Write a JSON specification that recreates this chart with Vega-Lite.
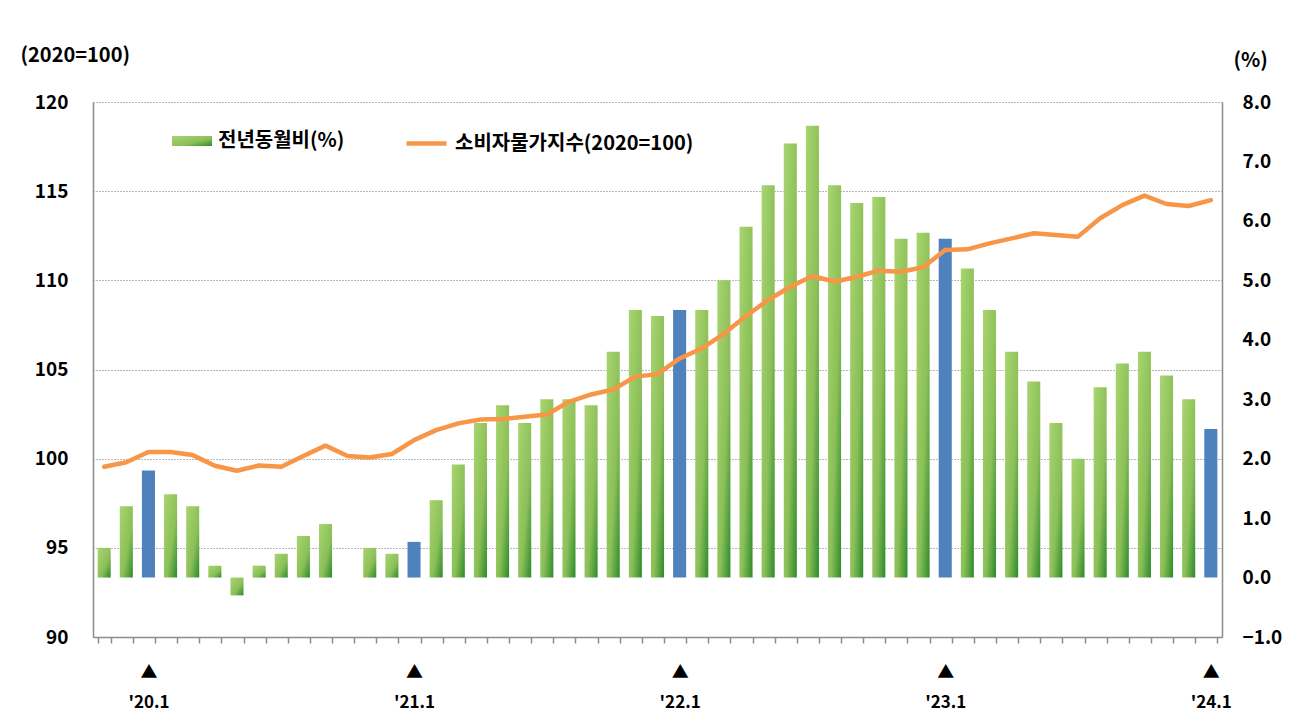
{
  "$schema": "https://vega.github.io/schema/vega-lite/v6.json",
  "width": 1129,
  "height": 535,
  "autosize": {"type": "none"},
  "padding": {"left": 93, "top": 102, "right": 68, "bottom": 75},
  "background": "white",
  "config": {"view": {"stroke": null}, "font": "Noto Sans CJK KR"},
  "data": {
    "values": [
      {"m": "2019-11", "yoy": 0.5, "cpi": 99.55},
      {"m": "2019-12", "yoy": 1.2, "cpi": 99.8},
      {"m": "2020-01", "yoy": 1.8, "cpi": 100.37},
      {"m": "2020-02", "yoy": 1.4, "cpi": 100.37},
      {"m": "2020-03", "yoy": 1.2, "cpi": 100.2},
      {"m": "2020-04", "yoy": 0.2, "cpi": 99.6},
      {"m": "2020-05", "yoy": -0.3, "cpi": 99.32},
      {"m": "2020-06", "yoy": 0.2, "cpi": 99.62},
      {"m": "2020-07", "yoy": 0.4, "cpi": 99.55},
      {"m": "2020-08", "yoy": 0.7, "cpi": 100.15},
      {"m": "2020-09", "yoy": 0.9, "cpi": 100.73},
      {"m": "2020-10", "yoy": 0.0, "cpi": 100.15},
      {"m": "2020-11", "yoy": 0.5, "cpi": 100.07},
      {"m": "2020-12", "yoy": 0.4, "cpi": 100.26},
      {"m": "2021-01", "yoy": 0.6, "cpi": 101.04},
      {"m": "2021-02", "yoy": 1.3, "cpi": 101.6},
      {"m": "2021-03", "yoy": 1.9, "cpi": 101.98},
      {"m": "2021-04", "yoy": 2.6, "cpi": 102.2},
      {"m": "2021-05", "yoy": 2.9, "cpi": 102.22},
      {"m": "2021-06", "yoy": 2.6, "cpi": 102.35},
      {"m": "2021-07", "yoy": 3.0, "cpi": 102.48},
      {"m": "2021-08", "yoy": 3.0, "cpi": 103.19},
      {"m": "2021-09", "yoy": 2.9, "cpi": 103.6},
      {"m": "2021-10", "yoy": 3.8, "cpi": 103.88},
      {"m": "2021-11", "yoy": 4.5, "cpi": 104.6},
      {"m": "2021-12", "yoy": 4.4, "cpi": 104.74},
      {"m": "2022-01", "yoy": 4.5, "cpi": 105.62},
      {"m": "2022-02", "yoy": 4.5, "cpi": 106.18},
      {"m": "2022-03", "yoy": 5.0, "cpi": 107.0},
      {"m": "2022-04", "yoy": 5.9, "cpi": 108.0},
      {"m": "2022-05", "yoy": 6.6, "cpi": 108.9},
      {"m": "2022-06", "yoy": 7.3, "cpi": 109.64},
      {"m": "2022-07", "yoy": 7.6, "cpi": 110.24},
      {"m": "2022-08", "yoy": 6.6, "cpi": 109.92},
      {"m": "2022-09", "yoy": 6.3, "cpi": 110.2},
      {"m": "2022-10", "yoy": 6.4, "cpi": 110.54},
      {"m": "2022-11", "yoy": 5.7, "cpi": 110.48},
      {"m": "2022-12", "yoy": 5.8, "cpi": 110.73},
      {"m": "2023-01", "yoy": 5.7, "cpi": 111.7},
      {"m": "2023-02", "yoy": 5.2, "cpi": 111.74},
      {"m": "2023-03", "yoy": 4.5, "cpi": 112.07},
      {"m": "2023-04", "yoy": 3.8, "cpi": 112.35},
      {"m": "2023-05", "yoy": 3.3, "cpi": 112.64},
      {"m": "2023-06", "yoy": 2.6, "cpi": 112.54},
      {"m": "2023-07", "yoy": 2.0, "cpi": 112.45},
      {"m": "2023-08", "yoy": 3.2, "cpi": 113.48},
      {"m": "2023-09", "yoy": 3.6, "cpi": 114.22},
      {"m": "2023-10", "yoy": 3.8, "cpi": 114.75},
      {"m": "2023-11", "yoy": 3.4, "cpi": 114.28},
      {"m": "2023-12", "yoy": 3.0, "cpi": 114.17},
      {"m": "2024-01", "yoy": 2.5, "cpi": 114.5}
    ]
  },
  "encoding": {
    "x": {
      "field": "m",
      "type": "ordinal",
      "sort": "ascending",
      "scale": {"paddingInner": 0.41, "paddingOuter": 0.21},
      "axis": {
        "title": null,
        "labelAngle": 0,
        "tickBand": "extent",
        "tickSize": 6,
        "tickColor": "#8c8c8c",
        "tickWidth": 1.5,
        "domainColor": "#8c8c8c",
        "domainWidth": 1.5,
        "grid": false,
        "labelExpr": "substring(datum.value,5,7)=='01' ? ['▲', \"'\" + substring(datum.value,2,4) + '.1'] : ''",
        "labelFontSize": 17,
        "labelFontWeight": "bold",
        "labelColor": "#000000",
        "labelLineHeight": 30,
        "labelPadding": 21,
        "labelBaseline": "top"
      }
    }
  },
  "layer": [
    {
      "encoding": {
        "y": {
          "field": "yoy",
          "type": "quantitative",
          "scale": {"domain": [-1, 8], "nice": false},
          "axis": {
            "orient": "right",
            "values": [-1, 0, 1, 2, 3, 4, 5, 6, 7, 8],
            "format": ".1f",
            "grid": false,
            "ticks": false,
            "domainColor": "#8c8c8c",
            "domainWidth": 1.5,
            "labelPadding": 20,
            "labelFontSize": 19,
            "labelFontWeight": "bold",
            "labelColor": "#000000",
            "title": "(%)",
            "titleAngle": 0,
            "titleX": 11,
            "titleY": -42,
            "titleAlign": "left",
            "titleBaseline": "middle",
            "titleFontSize": 20,
            "titleFontWeight": "bold",
            "titleColor": "#000000"
          }
        }
      },
      "layer": [
        {
          "transform": [{"filter": "substring(datum.m,5,7)!='01'"}],
          "mark": {
            "type": "bar",
            "color": {
              "gradient": "linear",
              "x1": 0, "y1": 0, "x2": 1, "y2": 1,
              "stops": [
                {"offset": 0, "color": "#a8d570"},
                {"offset": 0.6, "color": "#8bbf58"},
                {"offset": 1, "color": "#2c8a2c"}
              ]
            }
          },
          "encoding": {
            "opacity": {
              "datum": "전년동월비(%)",
              "type": "ordinal",
              "scale": {"range": [1, 1]},
              "legend": {
                "orient": "none",
                "legendX": 79,
                "legendY": 19,
                "title": null,
                "padding": 0,
                "labelFont": "Noto Sans CJK KR",
                "labelFontSize": 20,
                "labelFontWeight": "bold",
                "labelColor": "#000000",
                "labelOffset": 6,
                "labelLimit": 400,
                "symbolSize": 1600,
                "symbolType": "M-1,-0.25H1V0.25H-1Z",
                "symbolStrokeWidth": 0
              }
            }
          }
        },
        {
          "transform": [{"filter": "substring(datum.m,5,7)=='01'"}],
          "mark": {"type": "bar", "color": "#4f81bd"}
        }
      ]
    },
    {
      "mark": {"type": "line", "strokeWidth": 4.5, "strokeCap": "round", "strokeJoin": "round"},
      "encoding": {
        "y": {
          "field": "cpi",
          "type": "quantitative",
          "scale": {"domain": [90, 120], "nice": false, "zero": false},
          "axis": {
            "orient": "left",
            "values": [90, 95, 100, 105, 110, 115, 120],
            "grid": true,
            "gridDash": [1, 2],
            "gridColor": "#6f6f6f",
            "gridWidth": 1,
            "ticks": false,
            "domainColor": "#8c8c8c",
            "domainWidth": 1.5,
            "labelPadding": 25,
            "labelFontSize": 19,
            "labelFontWeight": "bold",
            "labelColor": "#000000",
            "title": "(2020=100)",
            "titleAngle": 0,
            "titleX": -73,
            "titleY": -47,
            "titleAlign": "left",
            "titleBaseline": "middle",
            "titleFontSize": 20,
            "titleFontWeight": "bold",
            "titleColor": "#000000"
          }
        },
        "color": {
          "datum": "소비자물가지수(2020=100)",
          "type": "nominal",
          "scale": {"range": ["#f79646"]},
          "legend": {
            "orient": "none",
            "legendX": 311,
            "legendY": 19,
            "title": null,
            "padding": 0,
            "labelFont": "Noto Sans CJK KR",
            "labelFontSize": 20,
            "labelFontWeight": "bold",
            "labelColor": "#000000",
            "labelOffset": 6,
            "labelLimit": 400,
            "symbolSize": 1600,
            "symbolType": "stroke",
            "symbolStrokeWidth": 4.5
          }
        }
      }
    }
  ],
  "resolve": {"scale": {"y": "independent"}}
}
